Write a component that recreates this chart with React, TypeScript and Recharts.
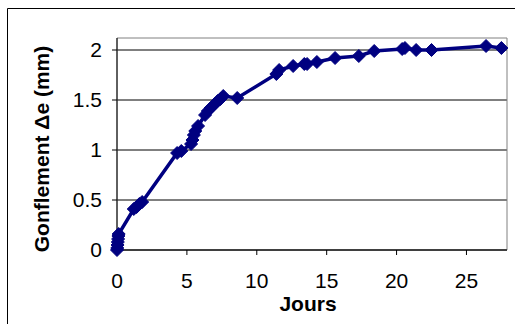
import { CartesianGrid, Label, Line, LineChart, ReferenceArea, XAxis, YAxis } from 'recharts'

// Gonflement mesuré en fonction du temps
const jours = [
  0, 0.02, 0.04, 0.06, 0.08, 0.1, 0.12,
  1.2, 1.4, 1.6, 1.8,
  4.3, 4.6,
  5.3, 5.4, 5.5, 5.6, 5.8,
  6.3, 6.5, 6.7, 7.0, 7.2, 7.4, 7.6, 8.6,
  11.4, 11.6, 12.6, 13.4, 13.6, 14.3, 15.6, 17.3, 18.4,
  20.4, 20.6, 21.4, 22.5, 26.4, 27.5,
]
const gonflement = [
  0, 0.02, 0.05, 0.08, 0.11, 0.14, 0.16,
  0.41, 0.43, 0.46, 0.48,
  0.97, 0.99,
  1.06, 1.1, 1.15, 1.19, 1.24,
  1.35, 1.39, 1.42, 1.46, 1.49, 1.51, 1.54, 1.52,
  1.76, 1.8, 1.84, 1.86, 1.86, 1.88, 1.92, 1.94, 1.99,
  2.01, 2.02, 2.0, 2.0, 2.04, 2.02,
]
const xTicks = [0, 5, 10, 15, 20, 25]
const yTicks = [0, 0.5, 1, 1.5, 2]

const data = jours.map((j, i) => ({ jours: j, de: gonflement[i] }))

const NAVY = '#000080'
const FONT = '"Liberation Sans", Arial, sans-serif'

const Diamond = (props: any) => {
  const { cx, cy } = props
  if (cx == null || cy == null) return null
  const r = 6.5
  return <path d={`M${cx},${cy - r}L${cx + r},${cy}L${cx},${cy + r}L${cx - r},${cy}Z`} fill={NAVY} stroke={NAVY} />
}

export default function App() {
  return (
    <div style={{ position: 'fixed', left: 0, top: 0, width: 515, height: 324, overflow: 'hidden', background: '#fff', fontFamily: FONT }}>
      <svg width={515} height={324} style={{ position: 'absolute', left: 0, top: 0 }}>
        <path d='M7.5,340V8.5H530' fill='none' stroke='#000' strokeWidth={1} />
      </svg>
      <div style={{ position: 'absolute', left: 0, top: 0 }}>
        <LineChart width={515} height={324} data={data} margin={{ top: 38, right: 8, left: 0, bottom: 0 }}>
          <CartesianGrid vertical={false} stroke='#000' horizontalValues={yTicks} />
          <ReferenceArea x1={0} x2={27.9} y1={0} y2={2.12} fill='none' stroke='#808080' ifOverflow='visible' />
          <XAxis
            dataKey='jours'
            type='number'
            domain={[0, 27.9]}
            ticks={xTicks}
            height={74}
            stroke='#000'
            tickSize={5}
            tickMargin={18}
            tick={{ fill: '#000', fontSize: 21, fontFamily: FONT }}
          >
            <Label
              content={({ viewBox }: any) => (
                <text x={viewBox.x + viewBox.width / 2 - 4} y={viewBox.y + 61} textAnchor='middle' fontSize={21} fontWeight='bold' fontFamily={FONT} fill='#000'>
                  Jours
                </text>
              )}
            />
          </XAxis>
          <YAxis
            type='number'
            domain={[0, 2.12]}
            ticks={yTicks}
            width={117}
            stroke='#000'
            tickSize={5}
            tickMargin={10}
            tick={{ fill: '#000', fontSize: 21, fontFamily: FONT }}
          >
            <Label
              content={({ viewBox }: any) => {
                const cx = viewBox.x + 49
                const cy = viewBox.y + viewBox.height / 2 + 5
                return (
                  <text x={cx} y={cy} transform={`rotate(-90 ${cx} ${cy})`} textAnchor='middle' fontSize={21} fontWeight='bold' fontFamily={FONT} fill='#000'>
                    Gonflement Δe (mm)
                  </text>
                )
              }}
            />
          </YAxis>
          <Line
            type='linear'
            dataKey='de'
            stroke={NAVY}
            strokeWidth={3.5}
            dot={<Diamond />}
            activeDot={false}
            isAnimationActive={false}
          />
        </LineChart>
      </div>
    </div>
  )
}
